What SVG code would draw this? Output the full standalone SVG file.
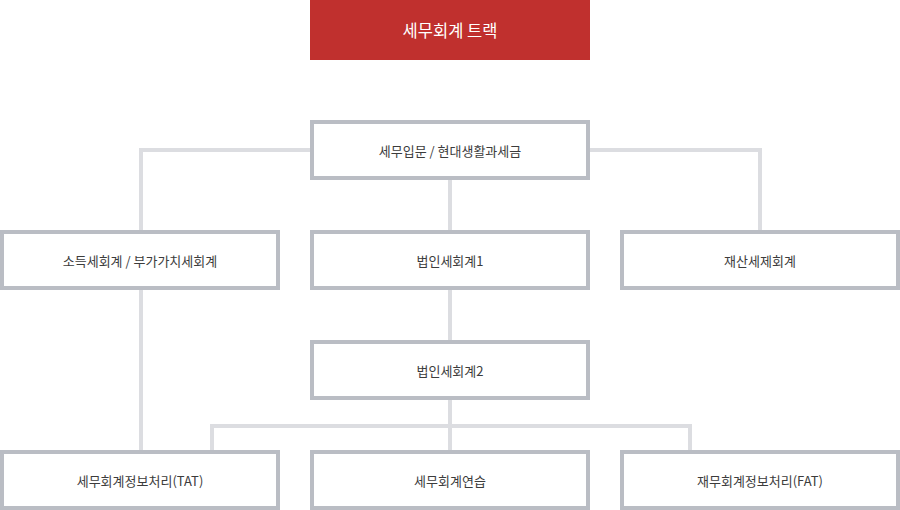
<svg xmlns="http://www.w3.org/2000/svg" width="900" height="510" viewBox="0 0 900 510">
<style>
.box{fill:#ffffff;stroke:#babdc4;stroke-width:4}
.lbl{font-family:"Noto Sans CJK KR","Noto Sans",sans-serif;font-size:13px;fill:#3c3c3c;text-anchor:middle;dominant-baseline:central}
.conn{fill:none;stroke:#dcdde1;stroke-width:4}
</style>
<rect width="900" height="510" fill="#ffffff"/>
<g id="connectors">
<polyline class="conn" points="312,150 141,150 141,232"/>
<polyline class="conn" points="588,150 760,150 760,232"/>
<line class="conn" x1="450" y1="178" x2="450" y2="232"/>
<line class="conn" x1="450" y1="288" x2="450" y2="342"/>
<line class="conn" x1="141" y1="288" x2="141" y2="452"/>
<line class="conn" x1="450" y1="398" x2="450" y2="452"/>
<polyline class="conn" points="212,452 212,426 690,426 690,452"/>
</g>
<g id="header">
<rect x="310" y="0" width="280" height="60" fill="#c0302e"/>
<text x="450" y="30" font-family="'Noto Sans CJK KR','Noto Sans',sans-serif" font-size="16.5" fill="#ffffff" text-anchor="middle" dominant-baseline="central">세무회계 트랙</text>
</g>
<g id="n-intro">
<rect class="box" x="312" y="122" width="276" height="56"/>
<text class="lbl" x="450" y="150">세무입문 / 현대생활과세금</text>
</g>
<g id="n-income">
<rect class="box" x="2" y="232" width="276" height="56"/>
<text class="lbl" x="140" y="260">소득세회계 / 부가가치세회계</text>
</g>
<g id="n-corp1">
<rect class="box" x="312" y="232" width="276" height="56"/>
<text class="lbl" x="450" y="260">법인세회계1</text>
</g>
<g id="n-property">
<rect class="box" x="622" y="232" width="276" height="56"/>
<text class="lbl" x="760" y="260">재산세제회계</text>
</g>
<g id="n-corp2">
<rect class="box" x="312" y="342" width="276" height="56"/>
<text class="lbl" x="450" y="370">법인세회계2</text>
</g>
<g id="n-tat">
<rect class="box" x="2" y="452" width="276" height="56"/>
<text class="lbl" x="140" y="480">세무회계정보처리(TAT)</text>
</g>
<g id="n-practice">
<rect class="box" x="312" y="452" width="276" height="56"/>
<text class="lbl" x="450" y="480">세무회계연습</text>
</g>
<g id="n-fat">
<rect class="box" x="622" y="452" width="276" height="56"/>
<text class="lbl" x="760" y="480">재무회계정보처리(FAT)</text>
</g>
</svg>
